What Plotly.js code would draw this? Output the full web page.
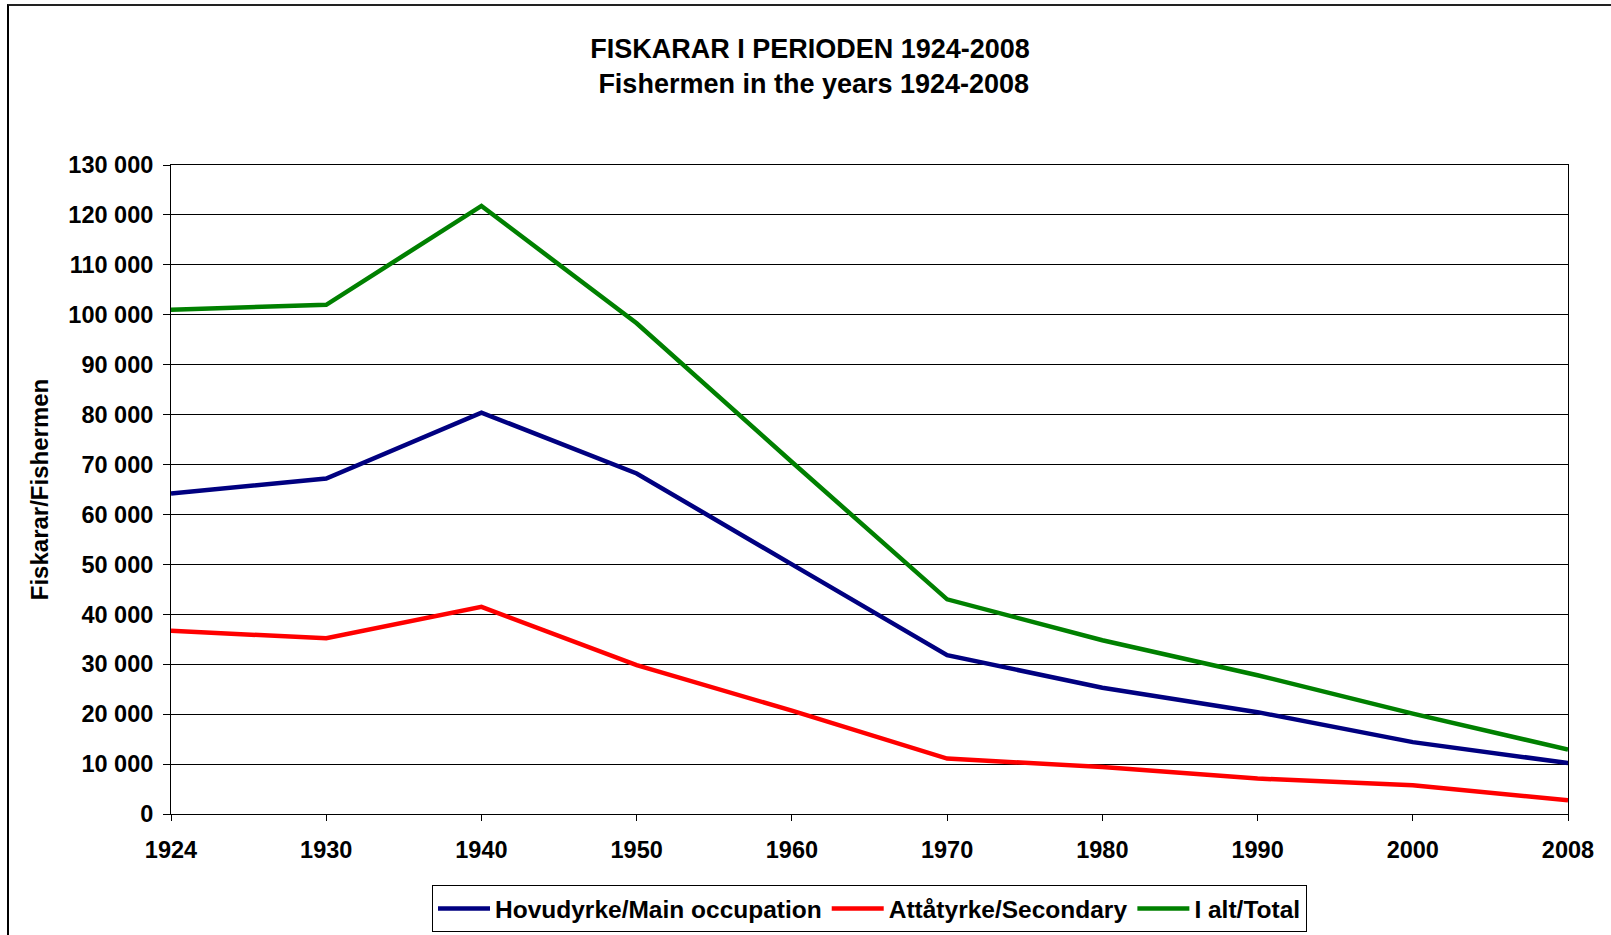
<!DOCTYPE html>
<html>
<head>
<meta charset="utf-8">
<script src="https://cdn.plot.ly/plotly-3.0.1.min.js"></script>
<style>
  html, body { margin: 0; padding: 0; background: #fff; overflow: hidden; }
  #wrap { position: relative; width: 1611px; height: 935px; }
  #chart { width: 1611px; height: 935px; }
  #frame { position: absolute; left: 7px; top: 4px; width: 1700px; height: 1000px;
           border-left: 2px solid #000; border-top: 2px solid #222; pointer-events: none; }
</style>
</head>
<body>
<div id="wrap">
  <div id="chart"></div>
  <div id="frame"></div>
</div>
<script>
const years = ['1924', '1930', '1940', '1950', '1960', '1970', '1980', '1990', '2000', '2008'];
const mainOccupation = [64200, 67200, 80400, 68200, 50000, 31800, 25300, 20400, 14400, 10200];
const secondary = [36700, 35200, 41500, 29800, 20700, 11100, 9400, 7100, 5750, 2750];
const total = [101000, 102000, 121800, 98300, 70500, 43000, 34800, 27800, 20100, 12900];

const seriesNames = ['Hovudyrke/Main occupation', 'Attåtyrke/Secondary', 'I alt/Total'];
const seriesColors = ['#000080', '#FF0000', '#008000'];
const seriesValues = [mainOccupation, secondary, total];

const FONT = 'Liberation Sans, Arial, Helvetica, sans-serif';

const traces = seriesValues.map((vals, i) => ({
  type: 'scatter',
  mode: 'lines',
  x: years,
  y: vals,
  name: seriesNames[i],
  line: { color: seriesColors[i], width: 4.5 }
}));

const layout = {
  width: 1611,
  height: 935,
  paper_bgcolor: '#ffffff',
  plot_bgcolor: '#ffffff',
  separators: ', ',
  margin: { l: 171, r: 43, t: 165, b: 121, pad: 0, autoexpand: false },
  font: { family: FONT, color: '#000', size: 22 },
  title: {
    text: 'FISKARAR I PERIODEN 1924-2008<br>\u00a0Fishermen in the years 1924-2008',
    font: { family: FONT, size: 27, weight: 'bold', color: '#000' },
    x: 810 / 1611,
    xanchor: 'center',
    xref: 'container',
    yref: 'container',
    y: 1 - 58 / 935,
    yanchor: 'top'
  },
  xaxis: {
    type: 'category',
    range: [0, 9],
    showline: true,
    linecolor: '#000',
    linewidth: 1,
    mirror: true,
    showgrid: false,
    ticks: 'outside',
    ticklen: 6,
    tickcolor: '#000',
    tickfont: { family: FONT, size: 23.5, weight: 'bold', color: '#000' },
    ticklabelstandoff: 9,
    fixedrange: true
  },
  yaxis: {
    range: [0, 130000],
    dtick: 10000,
    tick0: 0,
    tickformat: ',d',
    showline: true,
    linecolor: '#000',
    linewidth: 1,
    mirror: true,
    showgrid: true,
    gridcolor: '#000',
    gridwidth: 1,
    zeroline: false,
    ticks: 'outside',
    ticklen: 7,
    tickcolor: '#000',
    tickfont: { family: FONT, size: 23.5, weight: 'bold', color: '#000' },
    ticklabelstandoff: 5,
    title: {
      text: 'Fiskarar/Fishermen',
      font: { family: FONT, size: 24, weight: 'bold', color: '#000' },
      standoff: 12
    },
    fixedrange: true
  },
  showlegend: true,
  legend: {
    orientation: 'h',
    x: 0.5,
    xanchor: 'center',
    y: -(885 - 814) / 649,
    yanchor: 'top',
    bgcolor: '#fff',
    bordercolor: '#000',
    borderwidth: 1,
    font: { family: FONT, size: 24.5, weight: 'bold', color: '#000' },
    itemwidth: 52,
    traceorder: 'normal'
  }
};

Plotly.newPlot('chart', traces, layout, { displayModeBar: false, staticPlot: true });
</script>
</body>
</html>
